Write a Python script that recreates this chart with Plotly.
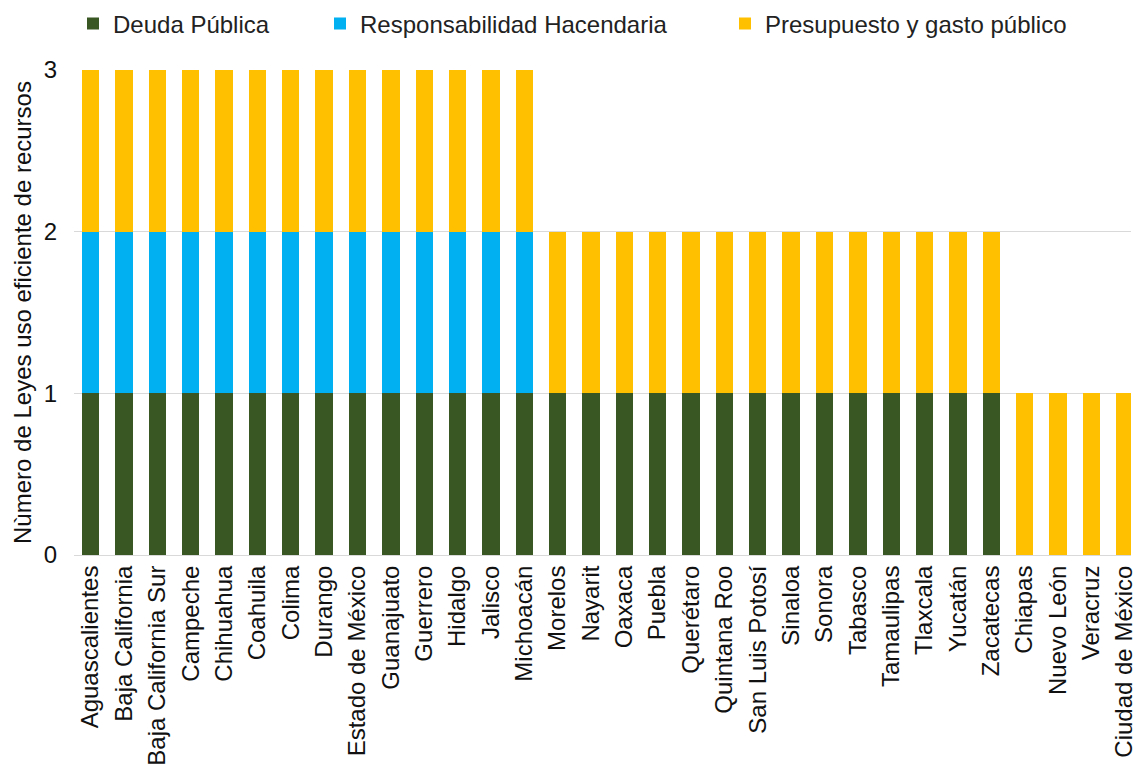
import plotly.graph_objects as go

# Entidades federativas
estados = [
    "Aguascalientes", "Baja California", "Baja California Sur", "Campeche",
    "Chihuahua", "Coahuila", "Colima", "Durango", "Estado de México",
    "Guanajuato", "Guerrero", "Hidalgo", "Jalisco", "Michoacán",
    "Morelos", "Nayarit", "Oaxaca", "Puebla", "Querétaro", "Quintana Roo",
    "San Luis Potosí", "Sinaloa", "Sonora", "Tabasco", "Tamaulipas",
    "Tlaxcala", "Yucatán", "Zacatecas", "Chiapas", "Nuevo León", "Veracruz",
    "Ciudad de México",
]

deuda_publica = [1] * 28 + [0] * 4
responsabilidad_hacendaria = [1] * 14 + [0] * 18
presupuesto_gasto = [1] * 32

y_ticks = [0, 1, 2, 3]

FONT = "Liberation Sans, Arial, sans-serif"
W, H = 1137, 766

series = [
    ("Deuda Pública", deuda_publica, "#385723", "legend", 73),
    ("Responsabilidad Hacendaria", responsabilidad_hacendaria, "#00B0F0", "legend2", 320),
    ("Presupuesto y gasto público", presupuesto_gasto, "#FFC000", "legend3", 725),
]

fig = go.Figure()
legends = {}
for name, vals, color, leg, left in series:
    fig.add_trace(go.Bar(
        x=estados, y=vals, name=name, marker_color=color,
        marker_line_width=0, legend=leg, showlegend=True,
    ))
    legends[leg] = dict(
        orientation="h", xref="container", yref="container",
        x=left / W, xanchor="left", y=1 - 24 / H, yanchor="middle",
        font=dict(family=FONT, size=24, color="#222222"),
        bgcolor="rgba(0,0,0,0)", borderwidth=0,
    )

fig.update_layout(
    width=W, height=H,
    margin=dict(l=74, r=0, t=70, b=209),
    barmode="stack", bargap=0.48,
    showlegend=True,
    plot_bgcolor="white", paper_bgcolor="white",
    font=dict(family=FONT, size=24, color="#111111"),
    **legends,
    xaxis=dict(
        type="category", range=[-0.5, 31.19], tickangle=-90,
        tickfont=dict(family=FONT, size=24, color="#111111"),
        showline=True, linecolor="#D9D9D9", linewidth=1,
        showgrid=False, ticks="",
    ),
    yaxis=dict(
        range=[0, 3], tickvals=y_ticks,
        tickfont=dict(family=FONT, size=24, color="#111111"),
        showgrid=True, gridcolor="#D9D9D9", gridwidth=1,
        zeroline=False, ticks="", ticklabelstandoff=16,
        title=dict(text="Nùmero de Leyes uso eficiente de recursos",
                   font=dict(family=FONT, size=24, color="#111111"),
                   standoff=5),
    ),
)

fig.write_html("out.html")
